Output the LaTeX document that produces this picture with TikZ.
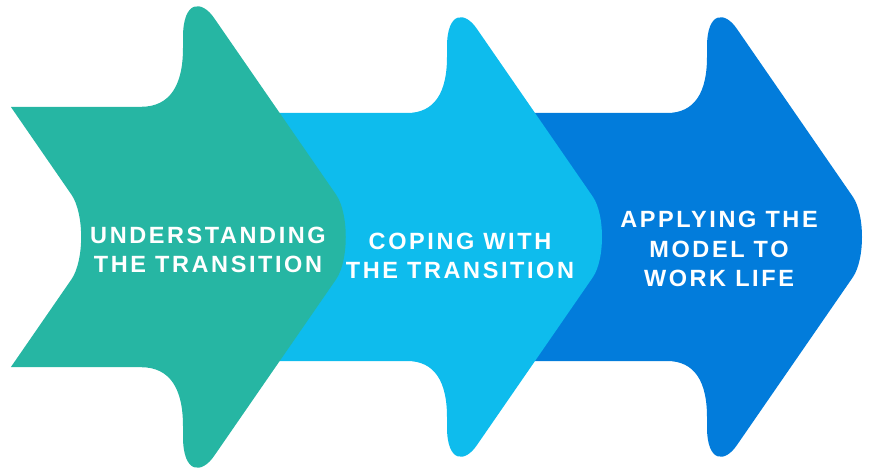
\documentclass[tikz,border=0pt]{standalone}
\usepackage{fontspec}
\setmainfont{Liberation Sans}
\newfontfamily\lblfont{Liberation Sans}[LetterSpace=11]
\definecolor{tealc}{HTML}{26B6A3}
\definecolor{skyc}{HTML}{0EBCED}
\definecolor{bluec}{HTML}{027CDB}
\newcommand\arrowshape[1]{(#1,-124) -- (-40,-124) .. controls (-12,-124) and (0,-145) .. (0,-180) -- (0,-190) .. controls (0,-226) and (18,-226) .. (30,-208) -- (146,-40) .. controls (158,-22) and (158,22) .. (146,40) -- (30,208) .. controls (18,226) and (0,226) .. (0,190) -- (0,180) .. controls (0,145) and (-12,124) .. (-40,124) -- (#1,124) -- ({#1+58},40) .. controls ({#1+70},22) and ({#1+70},-22) .. ({#1+58},-40) -- cycle}
\tikzset{
  lbl/.style={text=white, align=center, font=\lblfont\bfseries\fontsize{23.5}{29.5}\selectfont, inner sep=0pt}
}
\begin{document}
\begin{tikzpicture}[x=1pt,y=-1pt]
\useasboundingbox (0,0) rectangle (895,468);
\begin{scope}[shift={(707,237)}]
  \fill[bluec] \arrowshape{-176};
\end{scope}
\begin{scope}[shift={(447,237)}]
  \fill[skyc] \arrowshape{-176};
\end{scope}
\begin{scope}[shift={(183,237)},scale=1.05]
  \fill[tealc] \arrowshape{-164};
\end{scope}
\node[lbl] (t1) at (208,250) {UNDERSTANDING\\THE TRANSITION};
\node[lbl] (t2) at (460,256) {COPING WITH\\THE TRANSITION};
\node[lbl] (t3) at (719,249) {APPLYING THE\\MODEL TO\\WORK LIFE};
\end{tikzpicture}
\end{document}
